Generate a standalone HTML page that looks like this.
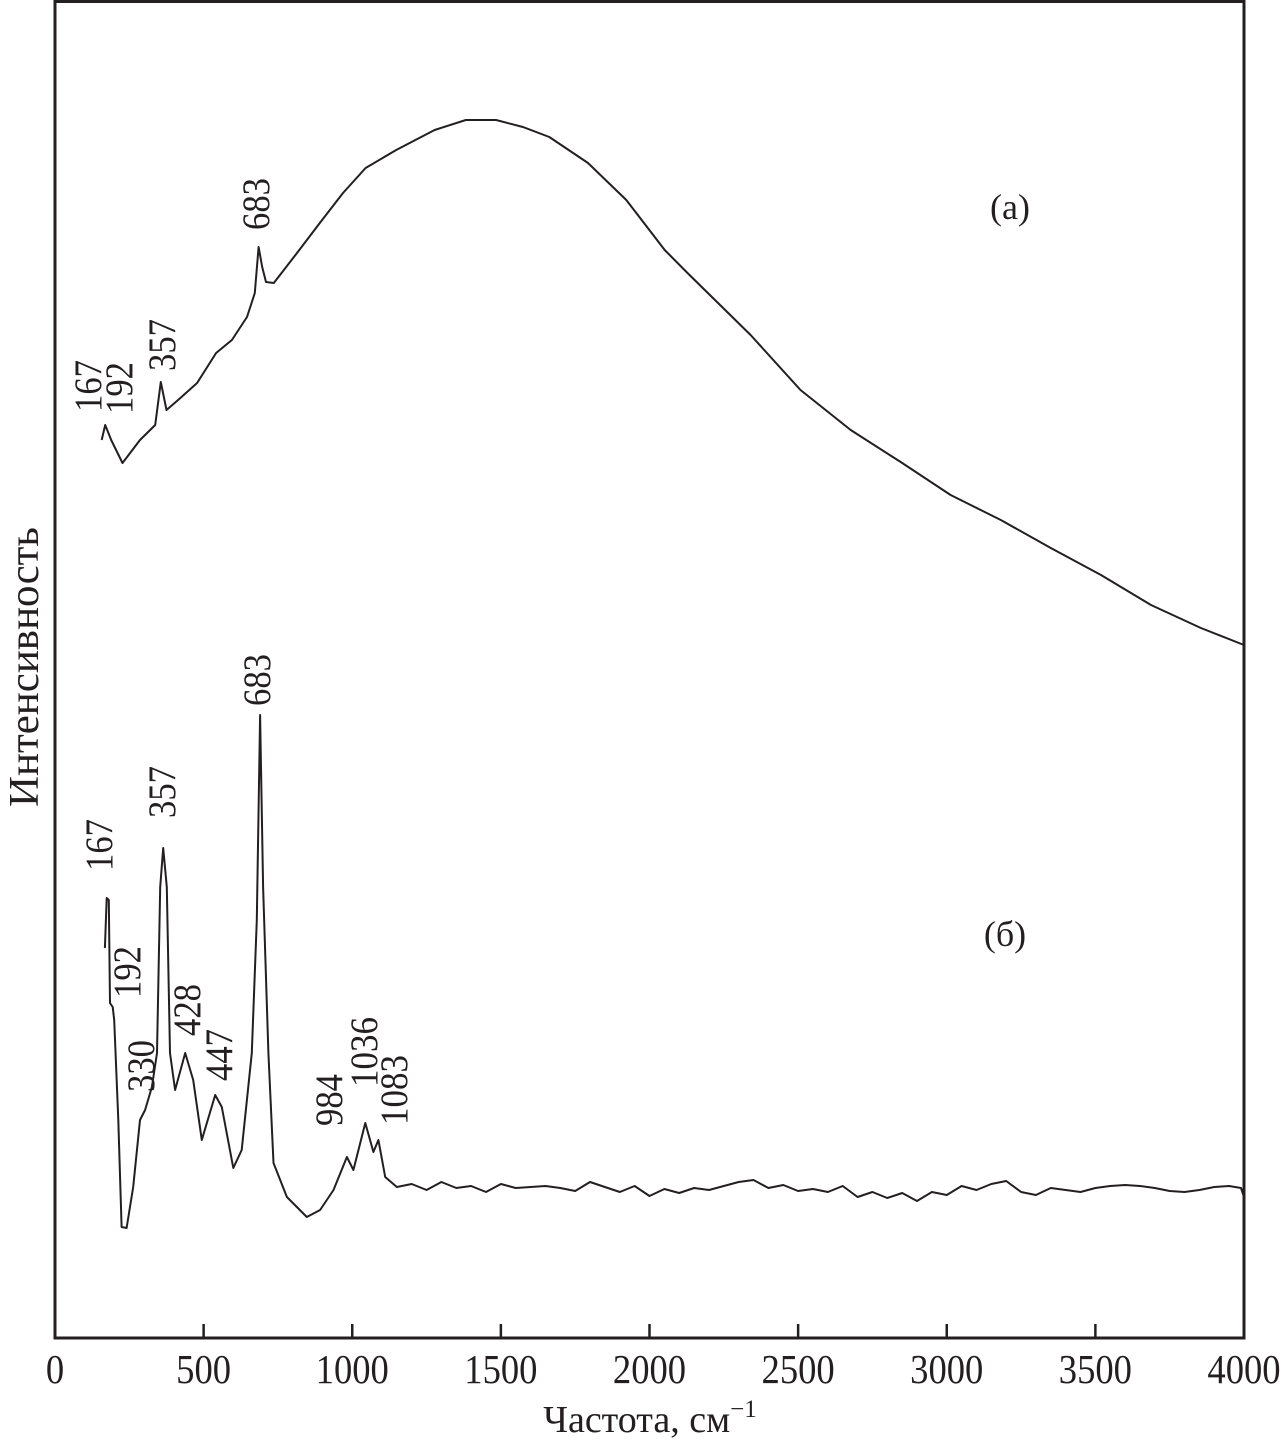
<!DOCTYPE html>
<html><head><meta charset="utf-8"><style>
html,body{margin:0;padding:0;background:#fff;}
svg{display:block;font-family:"Liberation Serif",serif;fill:#231f20;}
</style></head><body>
<svg id="chart" width="1285" height="1447" viewBox="0 0 1285 1447" xmlns="http://www.w3.org/2000/svg">
<rect x="55" y="1.5" width="1189" height="1336.5" fill="none" stroke="#231f20" stroke-width="3"/>
<g id="ticks"></g>
<g id="series"></g>
<g font-size="39" text-anchor="middle" lengthAdjust="spacingAndGlyphs">
<text textLength="52" lengthAdjust="spacingAndGlyphs" transform="translate(269,204) rotate(-90)">683</text>
<text textLength="52" lengthAdjust="spacingAndGlyphs" transform="translate(175,345) rotate(-90)">357</text>
<text textLength="52" lengthAdjust="spacingAndGlyphs" transform="translate(132,388) rotate(-90)">192</text>
<text textLength="52" lengthAdjust="spacingAndGlyphs" transform="translate(101,386) rotate(-90)">167</text>
</g>
<g font-size="39" text-anchor="middle">
<text textLength="52" lengthAdjust="spacingAndGlyphs" transform="translate(270,680) rotate(-90)">683</text>
<text textLength="52" lengthAdjust="spacingAndGlyphs" transform="translate(175,792) rotate(-90)">357</text>
<text textLength="52" lengthAdjust="spacingAndGlyphs" transform="translate(112,845) rotate(-90)">167</text>
<text textLength="52" lengthAdjust="spacingAndGlyphs" transform="translate(140,972) rotate(-90)">192</text>
<text textLength="52" lengthAdjust="spacingAndGlyphs" transform="translate(154,1066) rotate(-90)">330</text>
<text textLength="52" lengthAdjust="spacingAndGlyphs" transform="translate(200,1010) rotate(-90)">428</text>
<text textLength="52" lengthAdjust="spacingAndGlyphs" transform="translate(232,1055) rotate(-90)">447</text>
<text textLength="52" lengthAdjust="spacingAndGlyphs" transform="translate(342,1100) rotate(-90)">984</text>
<text textLength="70" lengthAdjust="spacingAndGlyphs" transform="translate(377,1052) rotate(-90)">1036</text>
<text textLength="70" lengthAdjust="spacingAndGlyphs" transform="translate(407,1090) rotate(-90)">1083</text>
</g>
<text x="1010" y="219" font-size="36" text-anchor="middle">(a)</text>
<text x="1005" y="946" font-size="36" text-anchor="middle">(б)</text>
<text transform="translate(38,667) rotate(-90)" font-size="42" textLength="280" lengthAdjust="spacingAndGlyphs" text-anchor="middle">Интенсивность</text>
<text x="650" y="1432" font-size="38" text-anchor="middle">Частота, см<tspan font-size="25" dy="-15">−1</tspan></text>
</svg>
<script>
const ticks = [0,500,1000,1500,2000,2500,3000,3500,4000];
const tickLabels = ["0","500","1000","1500","2000","2500","3000","3500","4000"];
const aFreq = [157,169,189,227,286,337,356,375,414,478,542,595,646,672,685,697,710,736,814,891,969,1045,1148,1277,1382,1484,1574,1663,1793,1922,2051,2128,2340,2508,2677,2845,3013,3182,3350,3519,3687,3855,4000];
const aInt = [898,913,898,875,898,913,956,928,938,955,985,998,1021,1045,1091,1071,1056,1055,1085,1115,1145,1170,1188,1208,1218,1218,1211,1201,1175,1138,1088,1065,1003,948,908,876,843,818,790,763,733,710,693];
const bFreq = [168,174,181,185,194,199,213,224,241,263,286,303,326,343,354,364,376,387,404,438,465,494,539,561,600,628,662,679,690,700,718,735,780,847,892,937,982,1004,1044,1071,1088,1111,1150,1200,1250,1300,1350,1400,1450,1500,1550,1600,1650,1700,1750,1800,1850,1900,1950,2000,2050,2100,2150,2200,2250,2300,2350,2400,2450,2500,2550,2600,2650,2700,2750,2800,2850,2900,2950,3000,3050,3100,3150,3200,3250,3300,3350,3400,3450,3500,3550,3600,3650,3700,3750,3800,3850,3900,3950,3990,4000];
const bInt = [390,440,438,335,331,318,218,111,110,151,218,228,251,285,451,490,451,285,248,285,258,198,243,231,170,188,285,418,623,451,285,175,141,121,128,148,181,168,215,186,198,161,151,154,148,156,150,152,146,154,150,151,152,150,147,156,151,146,152,142,149,145,150,148,152,156,158,150,153,147,149,146,152,141,146,140,145,137,146,143,152,148,154,157,146,143,150,148,146,150,152,153,152,150,147,146,148,151,152,150,141];
const X = v => 55 + v*1189/4000;
const Y = v => 1338 - v;
const NS = "http://www.w3.org/2000/svg";
const tg = document.getElementById('ticks');
ticks.forEach((t,i)=>{
  const l = document.createElementNS(NS,'line');
  
  
  l.setAttribute('x1',X(t));l.setAttribute('x2',X(t));l.setAttribute('y1',1338);l.setAttribute('y2',1324);
  l.setAttribute('stroke','#231f20');l.setAttribute('stroke-width','2.5');
  tg.appendChild(l);
  const tx = document.createElementNS(NS,'text');
  
  
  tx.setAttribute('x',X(t));tx.setAttribute('y',1383);tx.setAttribute('font-size','41');tx.setAttribute('text-anchor','middle');
  tx.setAttribute('textLength', String(tickLabels[i].length*18.3));
  tx.setAttribute('lengthAdjust','spacingAndGlyphs');
  tx.textContent = tickLabels[i];
  tg.appendChild(tx);
});
const sg = document.getElementById('series');
function draw(fx, fy, name){
  const p = document.createElementNS(NS,'path');
  
  
  p.setAttribute('d', fx.map((f,i)=>(i?'L':'M')+X(f).toFixed(1)+','+Y(fy[i]).toFixed(1)).join(''));
  p.setAttribute('fill','none');p.setAttribute('stroke','#231f20');p.setAttribute('stroke-width','2');p.setAttribute('stroke-linejoin','round');
  sg.appendChild(p);
}
draw(aFreq,aInt,'spectrum-a-line');
draw(bFreq,bInt,'spectrum-b-line');
</script>
</body></html>
